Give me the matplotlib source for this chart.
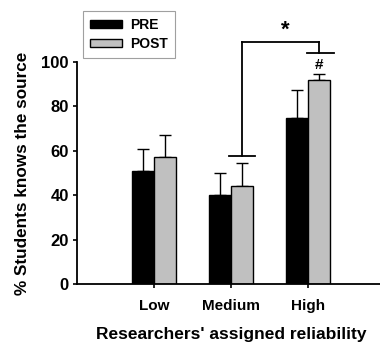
import matplotlib.pyplot as plt
import numpy as np

# Data
categories = ['Low', 'Medium', 'High']
pre_values = [51, 40, 75]
post_values = [57, 44, 92]
pre_err = [10, 10, 12.5]
post_err = [10, 10.5, 2.5]

plt.rcParams['font.family'] = 'Liberation Sans'
plt.rcParams['font.weight'] = 'bold'

fig = plt.figure(figsize=(3.8, 3.42), dpi=100)
ax = fig.add_axes([0.2026, 0.1696, 0.8105, 0.6491])

x = np.arange(len(categories))
w = 0.285

ax.bar(x - w / 2, pre_values, w, color='black', edgecolor='black', linewidth=1, label='PRE', zorder=2)
ax.bar(x + w / 2, post_values, w, color='#c0c0c0', edgecolor='black', linewidth=1, label='POST', zorder=2)

ax.errorbar(x - w / 2, pre_values, yerr=[np.zeros(3), pre_err], fmt='none',
            ecolor='black', elinewidth=1, capsize=4, capthick=1, zorder=1)
ax.errorbar(x + w / 2, post_values, yerr=[np.zeros(3), post_err], fmt='none',
            ecolor='black', elinewidth=1, capsize=4, capthick=1, zorder=1)

ax.set_xlim(-1, 3)
ax.set_ylim(0, 100)
ax.set_yticks([0, 20, 40, 60, 80, 100])
ax.set_xticks(x)
ax.set_xticklabels(categories)
ax.tick_params(axis='both', width=1.2, length=3)
ax.tick_params(axis='y', labelsize=12, pad=3)
ax.tick_params(axis='x', labelsize=11, pad=8)
for lbl in ax.get_xticklabels() + ax.get_yticklabels():
    lbl.set_fontweight('bold')

for s in ['top', 'right']:
    ax.spines[s].set_visible(False)
for s in ['left', 'bottom']:
    ax.spines[s].set_linewidth(1.3)

ax.set_ylabel('% Students knows the source', fontsize=12.3, fontweight='bold', labelpad=8)
ax.set_xlabel("Researchers' assigned reliability", fontsize=12.5, fontweight='bold', labelpad=10)

# significance bracket between Medium and High POST
kw = dict(color='black', lw=1.3, clip_on=False)
y_top = 109
ax.plot([1 + w / 2, 1 + w / 2], [57.8, y_top], **kw)
ax.plot([1 - 0.02, 1 + 0.31], [57.8, 57.8], **kw)
ax.plot([1 + w / 2, 2 + w / 2], [y_top, y_top], **kw)
ax.plot([2 + w / 2, 2 + w / 2], [y_top, 104], **kw)
ax.plot([2 - 0.01, 2 + 0.34], [104, 104], **kw)
ax.text(1.7, 109.5, '*', ha='center', va='bottom', fontsize=16, fontweight='bold')
ax.text(2 + w / 2, 95.5, '#', ha='center', va='bottom', fontsize=11, fontweight='bold')

leg = ax.legend(loc='upper left', bbox_to_anchor=(83 / 380, 1 - 11 / 342),
                bbox_transform=fig.transFigure, borderaxespad=0,
                frameon=True, fancybox=False,
                edgecolor='#888888', fontsize=10, handlelength=2.3, handleheight=0.45,
                borderpad=0.5, labelspacing=0.35, handletextpad=0.6)
leg.get_frame().set_linewidth(0.8)
for t in leg.get_texts():
    t.set_fontweight('bold')

fig.savefig('out.png', dpi=100, facecolor='white')
